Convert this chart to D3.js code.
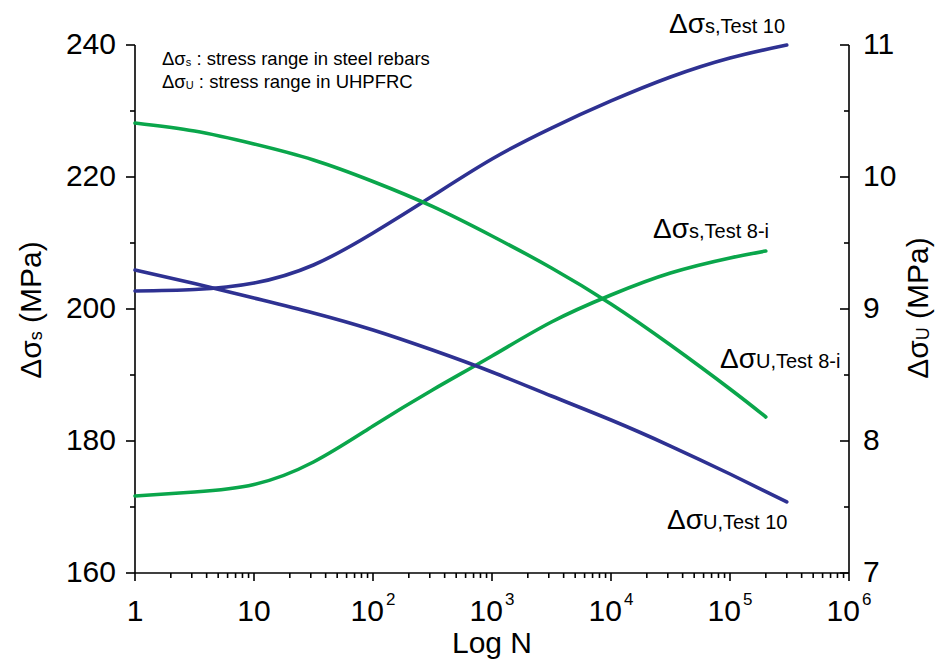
<!DOCTYPE html>
<html>
<head>
<meta charset="utf-8">
<script src="https://cdn.jsdelivr.net/npm/d3@7"></script>
<style>
  html, body { margin: 0; padding: 0; background: #fff; }
  svg { display: block; font-family: "Liberation Sans", Arial, sans-serif; }
</style>
</head>
<body>
<svg id="chart" width="935" height="662"></svg>
<script>
// Number of cycles N at which stress ranges were evaluated
const cyclesTest10 = [1, 3.16, 10, 31.6, 100, 316, 1000, 3160, 1e4, 3.16e4, 1e5, 3e5];
const cyclesTest8 = [1, 3.16, 10, 31.6, 100, 316, 1000, 3160, 1e4, 3.16e4, 1e5, 2e5];

// Stress range in steel rebars, Δσs (MPa, left axis)
const steelTest10 = [202.73, 202.95, 203.94, 206.67, 211.52, 217.12, 222.73, 227.42, 231.52, 235.15, 238.03, 240.0];
const steelTest8 = [171.67, 172.27, 173.41, 176.82, 182.27, 187.73, 192.88, 198.03, 202.12, 205.45, 207.73, 208.79];

// Stress range in UHPFRC, Δσu (MPa, right axis)
const uhpfrcTest10 = [9.295, 9.193, 9.083, 8.970, 8.841, 8.689, 8.523, 8.341, 8.159, 7.962, 7.750, 7.538];
const uhpfrcTest8 = [10.409, 10.348, 10.250, 10.129, 9.966, 9.777, 9.553, 9.311, 9.038, 8.727, 8.394, 8.182];

// Axis ticks
const xTicks = [1, 10, 100, 1000, 1e4, 1e5, 1e6];
const xTickExp = ["", "", "2", "3", "4", "5", "6"];
const leftTicks = [160, 180, 200, 220, 240];
const rightTicks = [7, 8, 9, 10, 11];

const colors = { test10: "#2e3192", test8: "#0aa64b" };

const svg = d3.select("#chart");
const plotL = 135, plotR = 849, plotT = 45, plotB = 573;

const x = d3.scaleLog().domain([1, 1e6]).range([plotL, plotR]);
const yL = d3.scaleLinear().domain([160, 240]).range([plotB, plotT]);
const yR = d3.scaleLinear().domain([7, 11]).range([plotB, plotT]);

// minor ticks
const xMinor = [];
for (let d = 0; d < 6; d++) for (let k = 2; k <= 9; k++) xMinor.push(k * Math.pow(10, d));
const leftMinor = [170, 190, 210, 230];
const rightMinor = [7.5, 8.5, 9.5, 10.5];

const axes = svg.append("g").attr("stroke", "#000").attr("stroke-width", 1.6);

// bottom axis
axes.append("line").attr("x1", plotL).attr("x2", plotR).attr("y1", plotB).attr("y2", plotB);
axes.selectAll(".xmaj").data(xTicks).join("line")
  .attr("x1", d => x(d)).attr("x2", d => x(d)).attr("y1", plotB).attr("y2", plotB + 8);
axes.selectAll(".xmin").data(xMinor).join("line")
  .attr("x1", d => x(d)).attr("x2", d => x(d)).attr("y1", plotB).attr("y2", plotB + 5);

// left axis
axes.append("line").attr("x1", plotL).attr("x2", plotL).attr("y1", plotT).attr("y2", plotB);
axes.selectAll(".lmaj").data(leftTicks).join("line")
  .attr("x1", plotL - 9).attr("x2", plotL).attr("y1", d => yL(d)).attr("y2", d => yL(d));
axes.selectAll(".lmin").data(leftMinor).join("line")
  .attr("x1", plotL - 5).attr("x2", plotL).attr("y1", d => yL(d)).attr("y2", d => yL(d));

// right axis (ticks point inward)
axes.append("line").attr("x1", plotR).attr("x2", plotR).attr("y1", plotT).attr("y2", plotB);
axes.selectAll(".rmaj").data(rightTicks).join("line")
  .attr("x1", plotR - 9).attr("x2", plotR).attr("y1", d => yR(d)).attr("y2", d => yR(d));
axes.selectAll(".rmin").data(rightMinor).join("line")
  .attr("x1", plotR - 5).attr("x2", plotR).attr("y1", d => yR(d)).attr("y2", d => yR(d));

// tick labels
const tickFont = 30;
svg.selectAll(".ltl").data(leftTicks).join("text")
  .attr("x", 116).attr("y", d => yL(d)).attr("dy", "0.3em")
  .attr("text-anchor", "end").attr("font-size", tickFont).text(d => d);
svg.selectAll(".rtl").data(rightTicks).join("text")
  .attr("x", 863).attr("y", d => yR(d)).attr("dy", "0.3em")
  .attr("text-anchor", "start").attr("font-size", tickFont).text(d => d);

xTicks.forEach((t, i) => {
  const txt = svg.append("text").attr("x", x(t)).attr("y", 621)
    .attr("font-size", tickFont).attr("text-anchor", "middle");
  if (xTickExp[i] === "") {
    txt.text(t === 1 ? "1" : "10");
  } else {
    txt.append("tspan").text("10");
    txt.append("tspan").attr("font-size", 17).attr("dx", 2).attr("dy", -16).text(xTickExp[i]);
  }
});

// axis titles
svg.append("text").attr("x", 492).attr("y", 653).attr("text-anchor", "middle")
  .attr("font-size", 30).text("Log N");

function sideTitle(cx, cy, sub) {
  const t = svg.append("text")
    .attr("transform", `translate(${cx},${cy}) rotate(-90)`)
    .attr("text-anchor", "middle").attr("font-size", 30);
  t.append("tspan").text("Δσ");
  t.append("tspan").attr("font-size", 18).attr("dy", 1).text(sub);
  t.append("tspan").attr("dy", -1).text(" (MPa)");
}
sideTitle(41, 310, "s");
sideTitle(928, 308, "U");

// note in upper-left corner
function note(y, sub, rest) {
  const t = svg.append("text").attr("x", 162).attr("y", y).attr("font-size", 18.5);
  t.append("tspan").text("Δσ");
  t.append("tspan").attr("font-size", 11).attr("dy", 1).text(sub);
  t.append("tspan").attr("dy", -1).text(rest);
}
note(65, "s", " : stress range in steel rebars");
note(88, "U", " : stress range in UHPFRC");

// curves
const line = d3.line().curve(d3.curveNatural);
function drawCurve(cycles, values, yScale, color) {
  svg.append("path")
    .attr("d", line(cycles.map((n, i) => [x(n), yScale(values[i])])))
    .attr("fill", "none").attr("stroke", color).attr("stroke-width", 3.6)
    .attr("stroke-linecap", "round");
}
drawCurve(cyclesTest10, steelTest10, yL, colors.test10);
drawCurve(cyclesTest8, steelTest8, yL, colors.test8);
drawCurve(cyclesTest10, uhpfrcTest10, yR, colors.test10);
drawCurve(cyclesTest8, uhpfrcTest8, yR, colors.test8);

// series labels
function seriesLabel(px, py, sub) {
  const t = svg.append("text").attr("x", px).attr("y", py).attr("font-size", 28);
  t.append("tspan").text("Δσ");
  t.append("tspan").attr("font-size", 20).text(sub);
}
seriesLabel(669, 33, "s,Test 10");
seriesLabel(653, 238, "s,Test 8-i");
seriesLabel(720, 368, "U,Test 8-i");
seriesLabel(667, 529, "U,Test 10");
</script>
</body>
</html>
